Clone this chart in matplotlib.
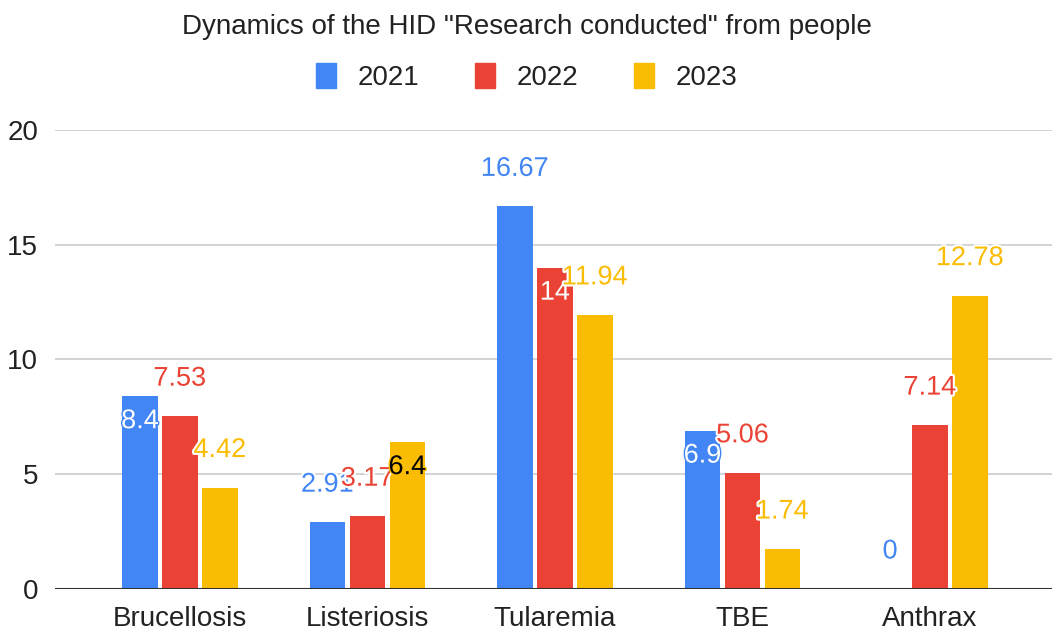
import numpy as np
import matplotlib
matplotlib.use("Agg")
import matplotlib.pyplot as plt
import matplotlib.patheffects as pe
from matplotlib.patches import Patch

# Chart data
diseases = ["Brucellosis", "Listeriosis", "Tularemia", "TBE", "Anthrax"]
years = ["2021", "2022", "2023"]
v2021 = [8.4, 2.91, 16.67, 6.9, 0]
v2022 = [7.53, 3.17, 14, 5.06, 7.14]
v2023 = [4.42, 6.4, 11.94, 1.74, 12.78]
label_text = [["8.4", "2.91", "16.67", "6.9", "0"],
              ["7.53", "3.17", "14", "5.06", "7.14"],
              ["4.42", "6.4", "11.94", "1.74", "12.78"]]
# where Google Sheets put each value label
label_place = [["in", "up", "up", "in", "up"],
               ["up", "up", "in", "up", "up"],
               ["up", "in", "up", "up", "up"]]

colors = ["#4285F4", "#EA4335", "#FBBC04"]
inside_text = ["white", "white", "black"]
series = [v2021, v2022, v2023]

plt.rcParams["font.family"] = ["Liberation Sans", "DejaVu Sans"]

fig = plt.figure(figsize=(10.54, 6.34), dpi=100)
ax = fig.add_axes([0.052, 0.071, 0.946, 0.724])

x = np.arange(len(diseases))
width = 0.19
step = 0.213

for i, vals in enumerate(series):
    pos = x + (i - 1) * step
    ax.bar(pos, vals, width=width, color=colors[i], zorder=3)
    for j, v in enumerate(vals):
        if label_place[i][j] == "up":
            ax.annotate(label_text[i][j], (pos[j], v), xytext=(0, 27), textcoords="offset points",
                        ha="center", va="center", fontsize=19.5, color=colors[i], zorder=5,
                        path_effects=[pe.withStroke(linewidth=3, foreground="white")])
        else:
            ax.annotate(label_text[i][j], (pos[j], v), xytext=(0, -18), textcoords="offset points",
                        ha="center", va="center", fontsize=19.5, color=inside_text[i], zorder=5,
                        path_effects=[pe.withStroke(linewidth=2, foreground=colors[i])])

ax.set_xlim(-0.667, 4.65)
ax.set_ylim(0, 20)
ax.set_yticks([0, 5, 10, 15, 20])
ax.set_xticks(x)
ax.set_xticklabels(diseases)
ax.tick_params(axis="both", length=0, labelsize=20, colors="#222222")
ax.tick_params(axis="x", pad=12)
ax.tick_params(axis="y", pad=12)
ax.grid(axis="y", color="#cccccc", linewidth=1.2, zorder=0)
for s in ax.spines.values():
    s.set_visible(False)
ax.axhline(0, color="#333333", linewidth=1.5, zorder=4)

fig.text(0.5, 0.958, 'Dynamics of the HID "Research conducted" from people',
         ha="center", va="center", fontsize=20, color="#222222")

handles = [Patch(color=c, label=y) for c, y in zip(colors, years)]
fig.legend(handles=handles, loc="center", bbox_to_anchor=(0.5, 0.878), ncol=3, frameon=False,
           fontsize=20, handlelength=0.7, handleheight=1.0, handletextpad=0.8, columnspacing=2.0,
           labelcolor="#222222")

fig.savefig("out.png", dpi=100)
